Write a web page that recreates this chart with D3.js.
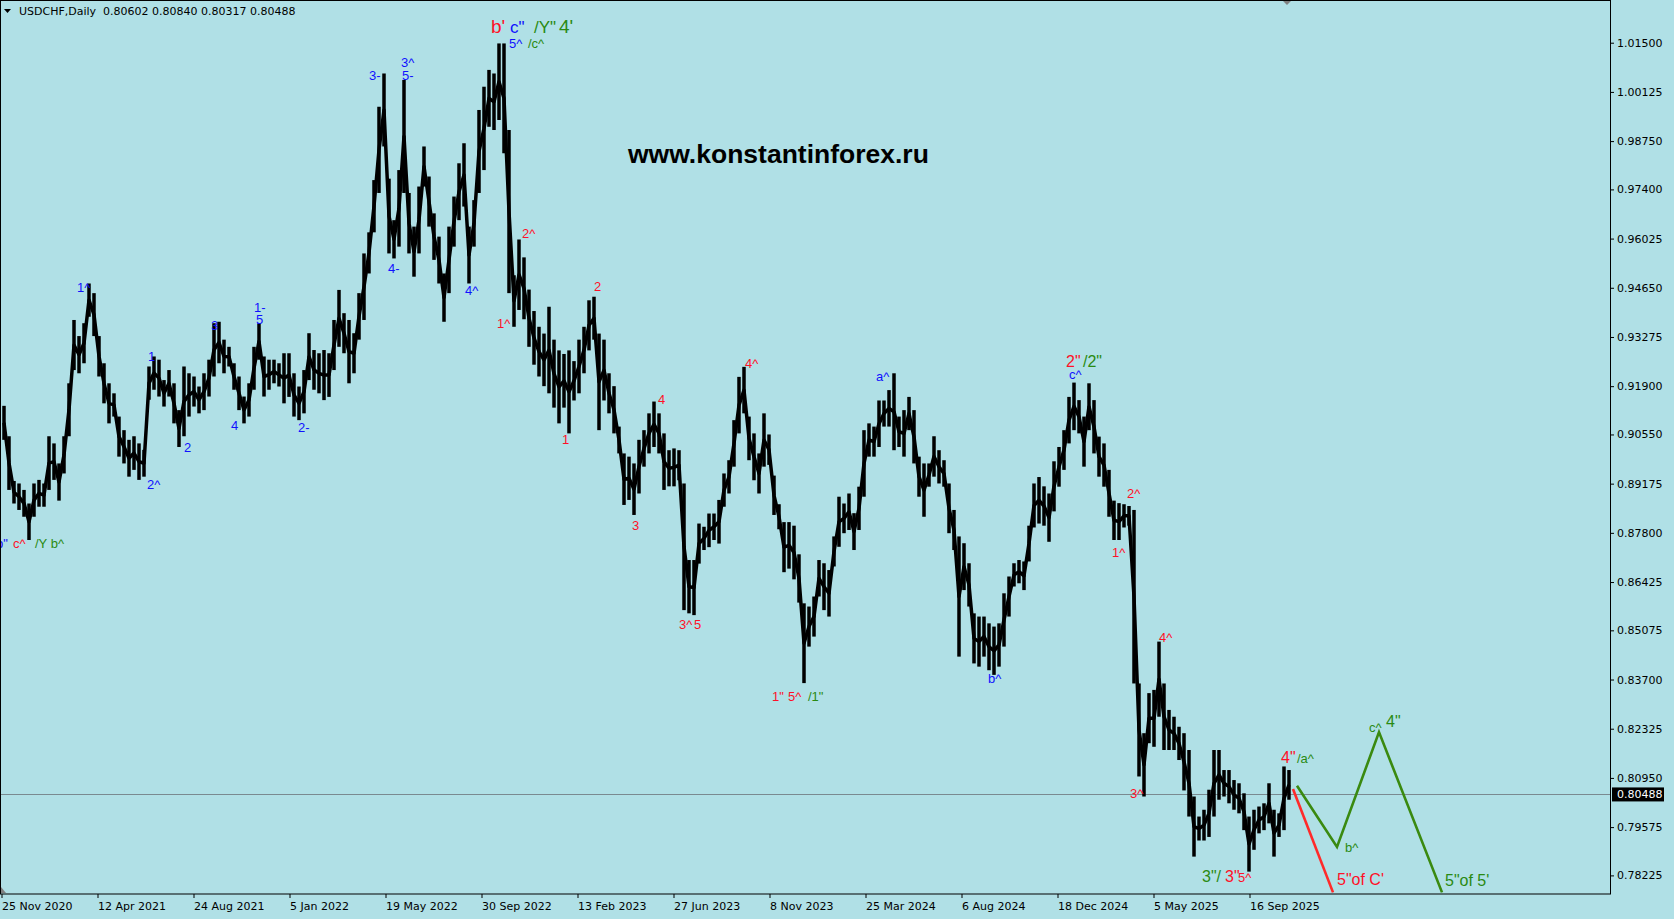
<!DOCTYPE html>
<html>
<head>
<meta charset="utf-8">
<style>
  body { margin: 0; background: #b0e0e6; }
  svg { display: block; }
  .axis text { font-family: "DejaVu Sans", sans-serif; font-size: 11px; fill: #000; }
  .axis line { stroke: #000; }
  .wave { font-family: "Liberation Sans", Arial, sans-serif; }
</style>
<script src="https://d3js.org/d3.v7.min.js"></script>
</head>
<body>
<div id="chart"></div>
<script>
var symbol = "USDCHF,Daily",
    ohlc = ["0.80602", "0.80840", "0.80317", "0.80488"],
    lastPrice = 0.80488,
    site = "www.konstantinforex.ru";

// one date label every 96 daily bars
var dateLabels = ["25 Nov 2020", "12 Apr 2021", "24 Aug 2021", "5 Jan 2022", "19 May 2022", "30 Sep 2022",
  "13 Feb 2023", "27 Jun 2023", "8 Nov 2023", "25 Mar 2024", "6 Aug 2024", "18 Dec 2024", "5 May 2025", "16 Sep 2025"];
var barsPerLabel = 96;

var priceTicks = [1.01500, 1.00125, 0.98750, 0.97400, 0.96025, 0.94650, 0.93275, 0.91900, 0.90550,
  0.89175, 0.87800, 0.86425, 0.85075, 0.83700, 0.82325, 0.80950, 0.79575, 0.78225];

// weekly high / low (5 bars each)
var barsPerWeek = 5;
var weekHigh = [
  0.9135,0.9050,0.8925,0.8918,0.8900,0.8862,0.8918,0.8928,0.8918,0.9050,
  0.9030,0.8974,0.9050,0.9198,0.9375,0.9330,0.9366,0.9477,0.9450,0.9330,
  0.9254,0.9198,0.9170,0.9105,0.9067,0.9040,0.9050,0.9030,0.9012,0.9245,
  0.9273,0.9264,0.9207,0.9235,0.9198,0.9123,0.9245,0.9226,0.9217,0.9189,
  0.9226,0.9264,0.9366,0.9370,0.9320,0.9300,0.9254,0.9217,0.9161,0.9198,
  0.9300,0.9366,0.9273,0.9264,0.9264,0.9254,0.9282,0.9282,0.9226,0.9189,
  0.9235,0.9338,0.9291,0.9282,0.9291,0.9282,0.9375,0.9459,0.9394,0.9375,
  0.9338,0.9450,0.9561,0.9620,0.9766,0.9971,1.0064,0.9770,0.9654,0.9794,
  1.0046,0.9730,0.9636,0.9748,0.9860,0.9776,0.9673,0.9608,0.9505,0.9636,
  0.9720,0.9813,0.9869,0.9636,0.9710,0.9962,1.0027,1.0074,1.0064,1.0148,
  1.0148,0.9906,0.9500,0.9600,0.9550,0.9460,0.9400,0.9356,0.9337,0.9412,
  0.9320,0.9290,0.9280,0.9290,0.9260,0.9320,0.9356,0.9430,0.9440,0.9337,
  0.9320,0.9226,0.9190,0.9077,0.9002,0.8993,0.8974,0.9040,0.9067,0.9114,
  0.9147,0.9114,0.9058,0.9011,0.9016,0.9011,0.8918,0.8704,0.8704,0.8806,
  0.8797,0.8834,0.8834,0.8872,0.8946,0.8983,0.9095,0.9216,0.9244,0.9105,
  0.9058,0.9002,0.9114,0.9055,0.8940,0.8860,0.8810,0.8810,0.8800,0.8720,
  0.8583,0.8574,0.8602,0.8704,0.8695,0.8676,0.8770,0.8881,0.8862,0.8890,
  0.8835,0.8909,0.9067,0.9086,0.9077,0.9150,0.9150,0.9179,0.9226,0.9105,
  0.9123,0.9160,0.9123,0.8993,0.8974,0.8974,0.9050,0.9011,0.8983,0.8918,
  0.8844,0.8770,0.8751,0.8695,0.8555,0.8546,0.8546,0.8527,0.8518,0.8527,
  0.8611,0.8658,0.8695,0.8704,0.8700,0.8800,0.8918,0.8936,0.8910,0.8890,
  0.8980,0.9020,0.9067,0.9160,0.9200,0.9151,0.9105,0.9198,0.9151,0.9049,
  0.9030,0.8956,0.8870,0.8863,0.8860,0.8855,0.8844,0.8359,0.8220,0.8332,
  0.8341,0.8476,0.8359,0.8285,0.8266,0.8238,0.8220,0.8173,0.8043,0.7987,
  0.8006,0.8062,0.8173,0.8173,0.8117,0.8117,0.8089,0.8080,0.8052,0.7987,
  0.8006,0.8015,0.8024,0.8080,0.8006,0.7996,0.8127,0.8117
];
var weekLow = [
  0.9040,0.8900,0.8862,0.8844,0.8825,0.8760,0.8825,0.8853,0.8853,0.8900,
  0.8928,0.8870,0.8946,0.9050,0.9235,0.9226,0.9254,0.9384,0.9330,0.9217,
  0.9142,0.9086,0.9105,0.8993,0.8974,0.8937,0.8956,0.8928,0.8937,0.9152,
  0.9180,0.9161,0.9133,0.9161,0.9086,0.9020,0.9050,0.9105,0.9133,0.9114,
  0.9123,0.9161,0.9217,0.9254,0.9226,0.9245,0.9180,0.9123,0.9086,0.9105,
  0.9180,0.9264,0.9161,0.9180,0.9198,0.9189,0.9142,0.9160,0.9105,0.9095,
  0.9114,0.9207,0.9180,0.9170,0.9151,0.9160,0.9235,0.9300,0.9282,0.9198,
  0.9226,0.9320,0.9375,0.9505,0.9620,0.9730,0.9860,0.9561,0.9547,0.9580,
  0.9730,0.9561,0.9496,0.9561,0.9748,0.9636,0.9543,0.9477,0.9370,0.9450,
  0.9580,0.9654,0.9692,0.9477,0.9580,0.9730,0.9794,0.9915,0.9906,0.9934,
  0.9841,0.9450,0.9356,0.9403,0.9377,0.9300,0.9250,0.9217,0.9190,0.9170,
  0.9130,0.9086,0.9130,0.9058,0.9150,0.9170,0.9226,0.9290,0.9320,0.9067,
  0.9150,0.9114,0.9058,0.9002,0.8858,0.8872,0.8830,0.8890,0.8965,0.9002,
  0.9020,0.9002,0.8900,0.8910,0.8910,0.8927,0.8564,0.8555,0.8550,0.8694,
  0.8732,0.8740,0.8760,0.8750,0.8853,0.8890,0.8965,0.9058,0.9114,0.8983,
  0.8927,0.8890,0.8965,0.8970,0.8830,0.8790,0.8670,0.8680,0.8650,0.8585,
  0.8360,0.8462,0.8490,0.8602,0.8564,0.8546,0.8686,0.8741,0.8779,0.8788,
  0.8732,0.8788,0.8881,0.8993,0.8993,0.9020,0.9077,0.9077,0.9011,0.9020,
  0.8993,0.9067,0.8974,0.8881,0.8825,0.8909,0.8937,0.8918,0.8909,0.8779,
  0.8732,0.8434,0.8620,0.8574,0.8415,0.8406,0.8434,0.8396,0.8383,0.8406,
  0.8462,0.8546,0.8630,0.8639,0.8620,0.8700,0.8795,0.8806,0.8800,0.8755,
  0.8840,0.8909,0.8956,0.9030,0.9067,0.9058,0.8965,0.9067,0.9002,0.8937,
  0.8909,0.8825,0.8760,0.8760,0.8795,0.8800,0.8359,0.8099,0.8043,0.8192,
  0.8182,0.8266,0.8173,0.8173,0.8173,0.8145,0.8060,0.7987,0.7875,0.7920,
  0.7920,0.7930,0.7987,0.8034,0.8043,0.8024,0.8006,0.7996,0.7949,0.7833,
  0.7894,0.7940,0.7949,0.7968,0.7875,0.7930,0.7949,0.8034
];

// forecast paths: [bar, price]
var redPath = [[1291.5, 0.8064], [1331.5, 0.7775]];
var greenPath = [[1295.5, 0.8073], [1335.5, 0.7902], [1377.5, 0.8223], [1440.5, 0.7775]];

// wave marks: [bar, price, text, kind]
var waveLabels = [
  [-5.5, 0.8738, "b\"", "b"], [11.5, 0.8738, "c^", "r"], [33.5, 0.8738, "/Y b^", "g"],
  [75.5, 0.9453, "1^", "b"], [145.5, 0.8903, "2^", "b"], [146.5, 0.9260, "1", "b"],
  [182.5, 0.9006, "2", "b"], [209.5, 0.9347, "3", "b"], [229.5, 0.9068, "4", "b"],
  [252.5, 0.9396, "1-", "b"], [254.5, 0.9363, "5", "b"], [296.5, 0.9062, "2-", "b"],
  [367.5, 1.0046, "3-", "b"], [399.5, 1.0082, "3^", "b"], [400.5, 1.0046, "5-", "b"],
  [386.5, 0.9506, "4-", "b"], [463.5, 0.9445, "4^", "b"],
  [489.5, 1.0177, "b'", "R"], [508.5, 1.0177, "c\"", "B"], [532.5, 1.0177, "/Y\"", "G"], [557.5, 1.0177, "4'", "G2"],
  [507.5, 1.0135, "5^", "b"], [526.5, 1.0135, "/c^", "g"],
  [495.5, 0.9353, "1^", "r"], [520.5, 0.9604, "2^", "r"], [560.5, 0.9028, "1", "r"],
  [592.5, 0.9456, "2", "r"], [630.5, 0.8788, "3", "r"], [656.5, 0.9140, "4", "r"],
  [677.5, 0.8511, "3^", "r"], [692.5, 0.8511, "5", "r"], [743.5, 0.9241, "4^", "r"],
  [770.5, 0.8310, "1\"", "r"], [786.5, 0.8310, "5^", "r"], [806.5, 0.8310, "/1\"", "g"],
  [874.5, 0.9204, "a^", "b"], [986.5, 0.8360, "b^", "b"],
  [1064.5, 0.9244, "2\"", "R1"], [1081.5, 0.9244, "/2\"", "G1"], [1067.5, 0.9210, "c^", "b"],
  [1125.5, 0.8877, "2^", "r"], [1110.5, 0.8713, "1^", "r"], [1157.5, 0.8475, "4^", "r"],
  [1128.5, 0.8039, "3^", "r"],
  [1200.5, 0.7804, "3\"/", "G1"], [1223.5, 0.7804, "3\"", "R1"], [1236.5, 0.7804, "5^", "r"],
  [1279.5, 0.8137, "4\"", "R1"], [1295.5, 0.8137, "/a^", "g"],
  [1343.5, 0.7888, "b^", "g"], [1335.5, 0.7796, "5\"of C'", "R1"],
  [1367.5, 0.8223, "c^", "g"], [1384.5, 0.8237, "4\"", "G1"], [1443.5, 0.7793, "5\"of 5'", "G1"]
];

var W = 1674, H = 919, plotW = 1610, plotH = 894;
var BLUE = "#1010ff", RED = "#ff1028", GREEN = "#2a8a12";
var kinds = {
  b: [BLUE, 13], r: [RED, 13], g: [GREEN, 13],
  R: [RED, 19], B: [BLUE, 17], G: [GREEN, 17], G2: [GREEN, 19],
  R1: [RED, 16], G1: [GREEN, 16]
};

var svg = d3.select("#chart").append("svg")
    .attr("width", W)
    .attr("height", H);

svg.append("rect").attr("width", W).attr("height", H).attr("fill", "#b0e0e6");

var x = d3.scaleLinear().domain([0, 1608.5]).range([1.5, plotW]);
var y = d3.scaleLinear().domain([0.77705, 1.02694]).range([plotH, 0]);

svg.append("clipPath").attr("id", "plot")
  .append("rect").attr("width", plotW).attr("height", plotH);

var plot = svg.append("g").attr("clip-path", "url(#plot)");

// current price line
plot.append("line")
    .attr("x1", 0).attr("x2", plotW)
    .attr("y1", Math.round(y(lastPrice)) + 0.5).attr("y2", Math.round(y(lastPrice)) + 0.5)
    .attr("stroke", "#7a8a90").attr("stroke-width", 1);

// price bars: a thin range bar per week, joined by a line through the mid of each range
var weeks = d3.range(weekHigh.length);
var mid = function(d) { return (weekHigh[d] + weekLow[d]) / 2; };
var cx = function(d) { return x(d * barsPerWeek + barsPerWeek / 2); };

plot.append("path")
    .attr("d", d3.line().x(cx).y(function(d) { return y(mid(d)); })(weeks))
    .attr("fill", "none").attr("stroke", "#000").attr("stroke-width", 3.5)
    .attr("stroke-linejoin", "round");

plot.selectAll(".wk")
  .data(weeks)
  .enter().append("rect")
    .attr("class", "wk")
    .attr("x", function(d) { return cx(d) - 1.75; })
    .attr("width", 3.5)
    .attr("y", function(d) { return y(weekHigh[d]); })
    .attr("height", function(d) { return y(weekLow[d]) - y(weekHigh[d]); })
    .attr("fill", "#000");

// forecast lines
var line = d3.line().x(function(d) { return x(d[0]); }).y(function(d) { return y(d[1]); });
plot.append("path").attr("d", line(redPath)).attr("fill", "none")
    .attr("stroke", "#ff2a2a").attr("stroke-width", 2.6);
plot.append("path").attr("d", line(greenPath)).attr("fill", "none")
    .attr("stroke", "#3a8a10").attr("stroke-width", 2.6).attr("stroke-linejoin", "miter");

// wave labels
plot.selectAll(".wave")
  .data(waveLabels)
  .enter().append("text")
    .attr("class", "wave")
    .attr("x", function(d) { return x(d[0]); })
    .attr("y", function(d) { return y(d[1]); })
    .attr("fill", function(d) { return kinds[d[3]][0]; })
    .style("font-size", function(d) { return kinds[d[3]][1] + "px"; })
    .text(function(d) { return d[2]; });

// watermark
svg.append("text")
    .attr("x", 628).attr("y", 163)
    .style("font-family", "'Liberation Sans', Arial, sans-serif")
    .style("font-weight", "bold")
    .style("font-size", "26.5px")
    .attr("fill", "#000")
    .text(site);

// header
svg.append("path").attr("d", "M4,9L11,9L7.5,13Z").attr("fill", "#000");
svg.append("text")
    .attr("x", 19).attr("y", 15)
    .style("font-family", "'DejaVu Sans', sans-serif").style("font-size", "11px")
    .attr("xml:space", "preserve")
    .text(symbol + "  " + ohlc.join(" "));

// shift marker
svg.append("path").attr("d", "M1282,0L1292,0L1287,5Z").attr("fill", "#808080");
svg.append("path").attr("d", "M1,887L1,893L6,893Z").attr("fill", "#808080");

// axes
var yAxis = d3.axisRight(y).tickValues(priceTicks).tickFormat(d3.format(".5f")).tickSize(4).tickPadding(3);
var ay = svg.append("g").attr("class", "axis").attr("transform", "translate(" + plotW + ",0)").call(yAxis);
ay.select(".domain").remove();

var xAxis = d3.axisBottom(x)
    .tickValues(dateLabels.map(function(d, i) { return i * barsPerLabel; }))
    .tickFormat(function(d, i) { return dateLabels[i]; })
    .tickSize(4).tickPadding(4);
var ax = svg.append("g").attr("class", "axis").attr("transform", "translate(0," + plotH + ")").call(xAxis);
ax.select(".domain").remove();
ax.selectAll("text").attr("text-anchor", "start").attr("x", 0);

// last price tag
var py = y(lastPrice);
svg.append("rect").attr("x", plotW + 2).attr("y", py - 7).attr("width", 52).attr("height", 14).attr("fill", "#000");
svg.append("text").attr("x", plotW + 7).attr("y", py).attr("dy", "0.34em")
    .style("font-family", "'DejaVu Sans', sans-serif").style("font-size", "11px")
    .attr("fill", "#fff").text(lastPrice.toFixed(5));

// frame
svg.append("rect").attr("x", 0.5).attr("y", 0.5).attr("width", plotW).attr("height", plotH - 0.5)
    .attr("fill", "none").attr("stroke", "#000");
</script>
</body>
</html>
